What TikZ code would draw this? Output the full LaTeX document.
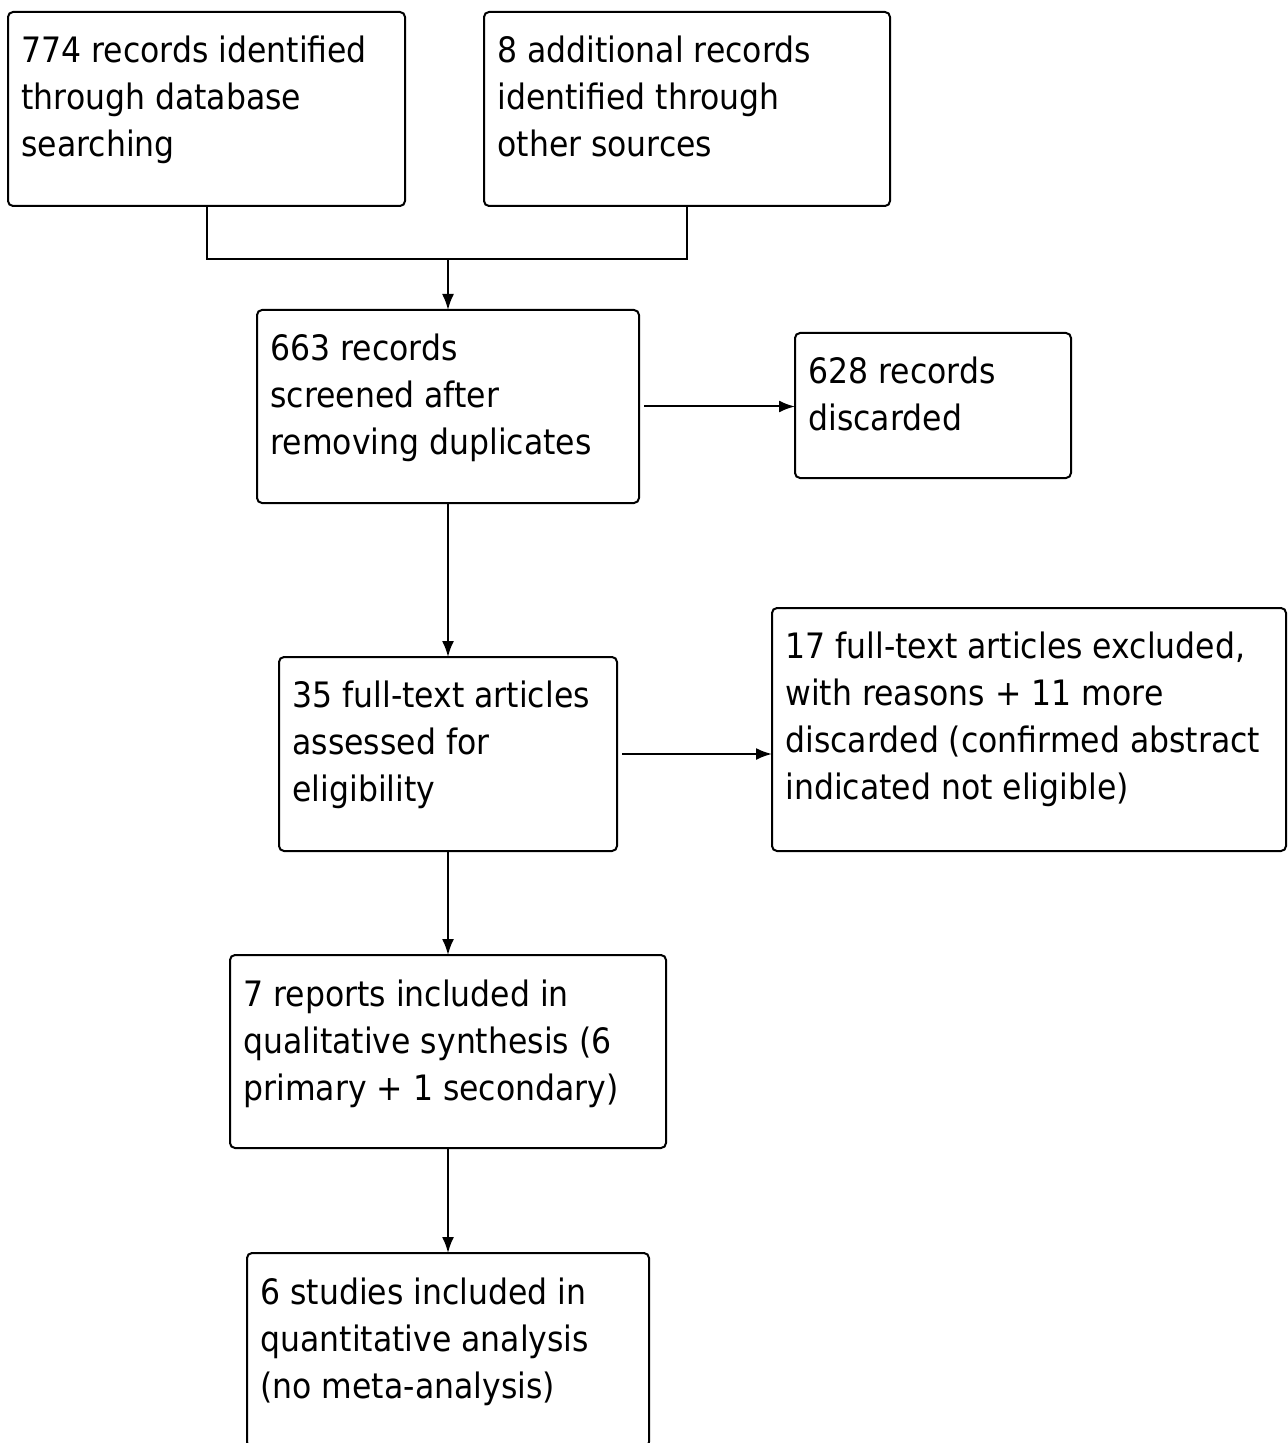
\documentclass[tikz,border=0pt]{standalone}
\usepackage{fontspec}
\setmainfont{DejaVu Sans}[FakeStretch=0.9]
\usetikzlibrary{arrows.meta}

\tikzset{
  frame/.style={draw, line width=1pt, rounded corners=2.5pt, anchor=north west, inner sep=0pt, outer sep=0pt},
  txt/.style={anchor=north west, align=left, inner sep=0pt, execute at begin node=\strut},
  link/.style={line width=1pt},
  arr/.style={line width=1pt, -{Latex[length=8pt,width=6pt]}},
}

\begin{document}
\begin{tikzpicture}[x=0.5pt, y=-0.5pt, font=\fontsize{17.5pt}{23.5pt}\selectfont]
\useasboundingbox (0,0) rectangle (1287,1443);

% identification
\node[frame, minimum width=198.5pt, minimum height=97pt] (found) at (8,12) {};
\node[txt] (found-t) at ([shift={(6.5pt,-12pt)}]found.north west) {774 records identified\\through database\\searching};
\node[frame, minimum width=203pt, minimum height=97pt] (other) at (484,12) {};
\node[txt] (other-t) at ([shift={(6.5pt,-12pt)}]other.north west) {8 additional records\\identified through\\other sources};

% screening
\node[frame, minimum width=191pt, minimum height=96.5pt] (screened) at (257,310) {};
\node[txt] (screened-t) at ([shift={(6.5pt,-12pt)}]screened.north west) {663 records\\screened after\\removing duplicates};
\node[frame, minimum width=138pt, minimum height=72.5pt] (discarded) at (795,333) {};
\node[txt] (discarded-t) at ([shift={(6.5pt,-12pt)}]discarded.north west) {628 records\\discarded};

% eligibility
\node[frame, minimum width=169pt, minimum height=97pt] (assessed) at (279,657) {};
\node[txt] (assessed-t) at ([shift={(6.5pt,-12pt)}]assessed.north west) {35 full-text articles\\assessed for\\eligibility};
\node[frame, minimum width=257pt, minimum height=121.5pt] (excluded) at (772,608) {};
\node[txt] (excluded-t) at ([shift={(6.5pt,-12pt)}]excluded.north west) {17 full-text articles excluded,\\with reasons + 11 more\\discarded (confirmed abstract\\indicated not eligible)};

% included
\node[frame, minimum width=218pt, minimum height=96.5pt] (synth) at (230,955) {};
\node[txt] (synth-t) at ([shift={(6.5pt,-12pt)}]synth.north west) {7 reports included in\\qualitative synthesis (6\\primary + 1 secondary)};
\node[frame, minimum width=201pt, minimum height=97pt] (quant) at (247,1253) {};
\node[txt] (quant-t) at ([shift={(6.5pt,-12pt)}]quant.north west) {6 studies included in\\quantitative analysis\\(no meta-analysis)};

% connectors
\coordinate (merge) at (screened.north |- 0,259);
\draw[link] (found.south) |- (merge) -| (other.south);
\draw[arr] (merge) -- (screened.north);
\draw[arr, shorten <=2.5pt] (screened.east) -- (screened.east -| discarded.west);
\draw[arr] (screened.south) -- (assessed.north);
\draw[arr, shorten <=2.5pt] (assessed.east) -- (assessed.east -| excluded.west);
\draw[arr] (assessed.south) -- (synth.north);
\draw[arr] (synth.south) -- (quant.north);
\end{tikzpicture}
\end{document}
